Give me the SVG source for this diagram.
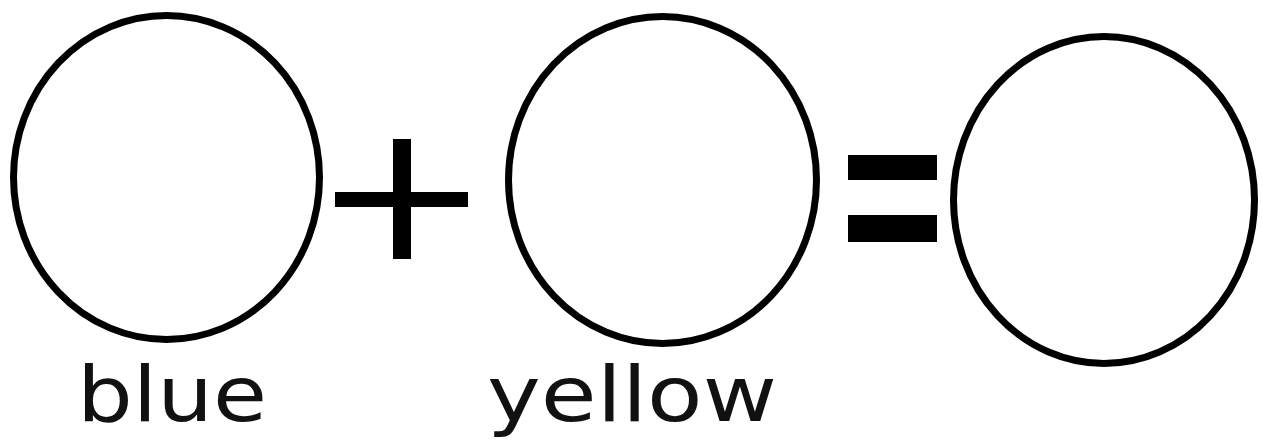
<svg xmlns="http://www.w3.org/2000/svg" width="1263" height="440" viewBox="0 0 1263 440">
<style>
.c{fill:none;stroke:#000;stroke-width:7}
.op{fill:#000}
.lbl{font-family:"DejaVu Sans","Liberation Sans",sans-serif;font-size:76px;fill:#111}
</style>
<rect width="1263" height="440" fill="#fff"/>
<g id="circle-blue">
<ellipse class="c" cx="166.5" cy="177.5" rx="153" ry="162"/>
<text class="lbl" x="77" y="421" textLength="190" lengthAdjust="spacingAndGlyphs">blue</text>
</g>
<g id="plus">
<rect class="op" x="335" y="192" width="133" height="15"/>
<rect class="op" x="393" y="139" width="18" height="120"/>
</g>
<g id="circle-yellow">
<ellipse class="c" cx="662.5" cy="180" rx="154" ry="163.5"/>
<text class="lbl" x="487" y="421" textLength="290" lengthAdjust="spacingAndGlyphs">yellow</text>
</g>
<g id="equals">
<rect class="op" x="848" y="155" width="89" height="25"/>
<rect class="op" x="848" y="215" width="89" height="27"/>
</g>
<g id="circle-result">
<ellipse class="c" cx="1104" cy="200" rx="150.5" ry="163.5"/>
</g>
<g id="connectors"></g>
</svg>
